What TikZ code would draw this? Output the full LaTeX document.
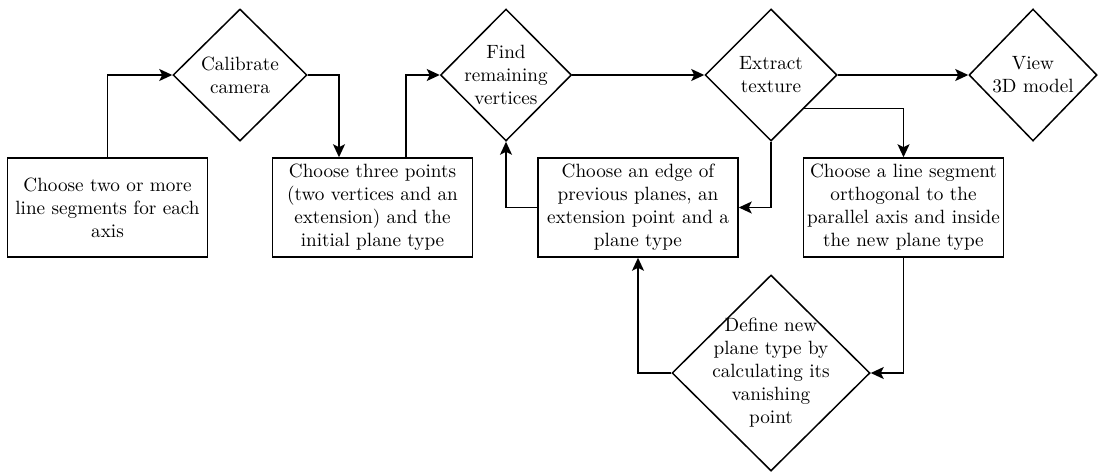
\documentclass[tikz,border=0pt]{standalone}
\usetikzlibrary{shapes.geometric,arrows.meta}

\begin{document}
\begin{tikzpicture}[
        x=0.5pt, y=-0.5pt,
        every node/.style={font=\fontsize{9.6}{11.5}\selectfont, align=center},
        stepbox/.style={draw, line width=0.75pt, minimum width=100pt, minimum height=49.5pt, inner sep=0pt},
        decision/.style={draw, diamond, line width=0.75pt, inner sep=-6pt},
        flow/.style={line width=0.75pt, -{Stealth[length=6.5pt, width=6pt, inset=1.5pt]}}
    ]
    \useasboundingbox (0,0) rectangle (1098,472);

    % steps
    \node[stepbox] (segments) at (107.5,207.5) {Choose two or more\\line segments for each\\axis};
    \node[stepbox] (points) at (372.5,207.5) {Choose three points\\(two vertices and an\\extension) and the\\initial plane type};
    \node[stepbox] (edge) at (638,207.5) {Choose an edge of\\previous planes, an\\extension point and a\\plane type};
    \node[stepbox] (orthogonal) at (903.5,207.5) {Choose a line segment\\orthogonal to the\\parallel axis and inside\\the new plane type};

    % decisions
    \node[decision, minimum width=67pt, minimum height=66pt] (calibrate) at (240,75) {Calibrate\\camera};
    \node[decision, minimum width=65.5pt, minimum height=66pt] (find) at (506,75) {Find\\remaining\\vertices};
    \node[decision, minimum width=66pt, minimum height=66pt] (extract) at (771,75) {Extract\\texture};
    \node[decision, minimum width=64pt, minimum height=66pt] (view) at (1033,75) {View\\3D model};
    \node[decision, minimum width=99pt, minimum height=98pt] (define) at (771,373) {Define new\\plane type by\\calculating its\\vanishing\\point};

    % connectors
    \draw[flow] (segments.north) |- (calibrate.west);
    \draw[flow] (calibrate.east) -| ([xshift=-16.75pt]points.north);
    \draw[flow] ([xshift=16.75pt]points.north) |- (find.west);
    \draw[flow] (find.east) -- (extract.west);
    \draw[flow] (extract.east) -- (view.west);
    \draw[flow] (extract.south) |- (edge.east);
    \draw[flow] (edge.west) -| (find.south);
    \draw[flow] (extract.south east) -| (orthogonal.north);
    \draw[flow] (orthogonal.south) |- (define.east);
    \draw[flow] (define.west) -| (edge.south);

\end{tikzpicture}
\end{document}
